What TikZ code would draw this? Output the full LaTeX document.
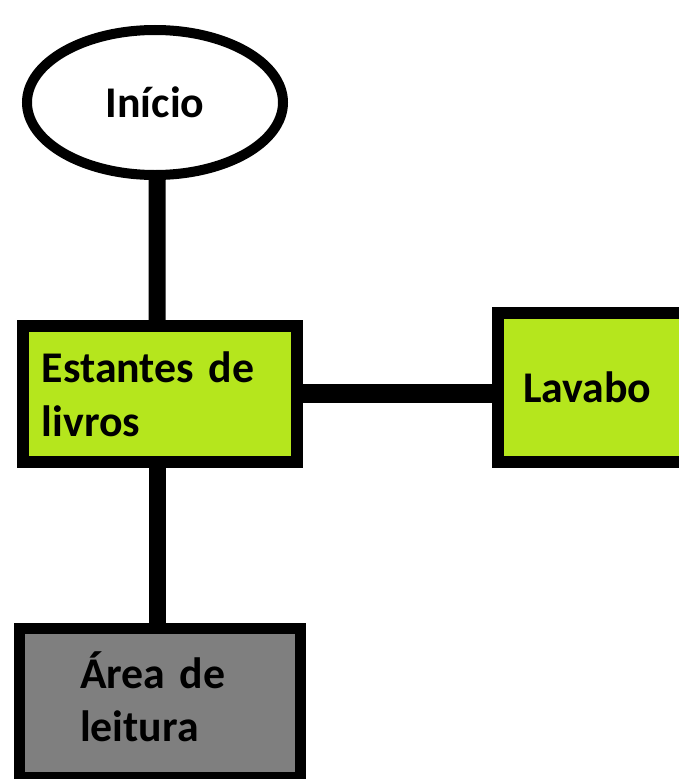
\documentclass[tikz,border=0pt]{standalone}
\usepackage{fontspec}
\setmainfont{Carlito}
\usetikzlibrary{shapes.geometric,backgrounds}
\definecolor{limeg}{HTML}{B5E61D}
\definecolor{greyb}{HTML}{7F7F7F}
\begin{document}
\begin{tikzpicture}[x=1bp,y=-1bp,
  lbl/.style={font=\bfseries\fontsize{44}{54}\selectfont},
  boxnode/.style={draw=black,line width=12bp,rectangle,inner sep=0pt,outer sep=0pt,lbl},
  conn/.style={line width=18bp,draw=black}]
\useasboundingbox (0,0) rectangle (679,779);
\clip (0,0) rectangle (679,779);
\node[ellipse,draw=black,line width=10bp,fill=white,minimum width=256bp,minimum height=145bp,inner sep=0pt,lbl] (start) at (155,102.5) {Início};
\node[boxnode,fill=limeg,minimum width=274bp,minimum height=136bp,text width=236bp,align=left] (shelves) at (160,394) {Estantes de\\livros};
\node[boxnode,fill=limeg,minimum width=240bp,minimum height=149bp,text width=204bp,align=left] (sink) at (618,387.5) {\hspace*{7bp}Lavabo};
\node[boxnode,line width=11bp,fill=greyb,minimum width=281bp,minimum height=149bp,text width=160bp,align=left] (reading) at (160,703) {Área de\\leitura\rule[-13bp]{0pt}{1bp}};
\begin{scope}[on background layer]
\draw[conn,line width=17bp] ([xshift=2bp]start.south) -- ([xshift=-3bp]shelves.north);
\draw[conn,line width=19bp] ([yshift=1bp]shelves.east) -- ([yshift=1bp]shelves.east -| sink.west);
\draw[conn,line width=17bp] ([xshift=-3bp]shelves.south) -- ([xshift=-3bp]reading.north);
\end{scope}
\end{tikzpicture}
\end{document}
